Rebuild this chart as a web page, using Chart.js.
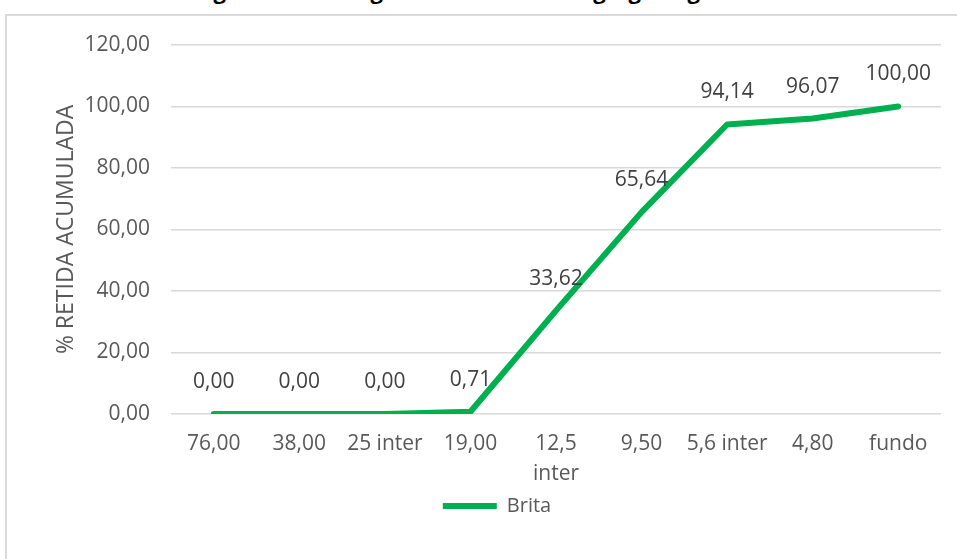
<!DOCTYPE html>
<html lang="pt">
<head>
<meta charset="UTF-8">
<title>Curva granulométrica</title>
<script src="https://cdn.jsdelivr.net/npm/chart.js"></script>
<style>
  html, body { margin: 0; padding: 0; background: #fff; overflow: hidden; }
  .grafico { position: relative; width: 957px; height: 559px; overflow: hidden; }
  .titulo {
    position: absolute; left: 0; top: -21px; width: 960px;
    text-align: center; font: bold 22px "Open Sans"; line-height: 22px; color: #000;
  }
  .moldura {
    position: absolute; left: 5px; top: 14px; width: 1000px; height: 600px;
    border-left: 2px solid #d9d9d9; border-top: 2px solid #d9d9d9;
  }
  canvas { position: absolute; left: 0; top: 0; }
</style>
</head>
<body>
<div class="grafico">
  <div class="titulo">Figura 1 - Curva granulométrica do agregado graúdo</div>
  <div class="moldura"></div>
  <canvas id="curva" width="957" height="559"></canvas>
</div>
<script>
  // peneiras (abertura em mm) e % retida acumulada da brita
  const peneiras = ['76,00', '38,00', '25 inter', '19,00', ['12,5', 'inter'], '9,50', '5,6 inter', '4,80', 'fundo'];
  const retidaAcumulada = [0.00, 0.00, 0.00, 0.71, 33.62, 65.64, 94.14, 96.07, 100.00];
  const eixoY = { min: 0, max: 120, passo: 20 };

  const verde = '#00B050';
  const cinzaTexto = '#595959';
  const fonte = '"Open Sans", sans-serif';

  const virgula = v => v.toFixed(2).replace('.', ',');

  // rótulos de valor acima de cada ponto
  const rotulos = {
    id: 'rotulos',
    afterDatasetsDraw(chart) {
      const ctx = chart.ctx;
      const meta = chart.getDatasetMeta(0);
      ctx.save();
      ctx.font = '21px ' + fonte;
      ctx.fillStyle = '#404040';
      ctx.textAlign = 'center';
      ctx.textBaseline = 'middle';
      meta.data.forEach((pt, i) => {
        ctx.fillText(virgula(retidaAcumulada[i]), pt.x, pt.y - 32);
      });
      ctx.restore();
    }
  };

  new Chart(document.getElementById('curva'), {
    type: 'line',
    data: {
      labels: peneiras,
      datasets: [{
        label: 'Brita',
        data: retidaAcumulada,
        borderColor: verde,
        backgroundColor: verde,
        borderWidth: 6,
        borderCapStyle: 'round',
        borderJoinStyle: 'round',
        pointRadius: 0,
        tension: 0,
        fill: false
      }]
    },
    plugins: [rotulos],
    options: {
      responsive: false,
      animation: false,
      layout: { padding: { left: 53, right: 16, top: 45, bottom: 33 } },
      plugins: {
        tooltip: { enabled: false },
        legend: {
          position: 'bottom',
          labels: {
            color: cinzaTexto,
            font: { family: fonte, size: 20 },
            boxWidth: 54,
            boxHeight: 6,
            padding: 2,
            generateLabels(chart) {
              return Chart.defaults.plugins.legend.labels.generateLabels(chart).map(l => {
                l.lineWidth = 0;
                l.fillStyle = verde;
                return l;
              });
            }
          }
        }
      },
      scales: {
        x: {
          offset: true,
          grid: { display: false, drawTicks: false },
          border: { display: false },
          afterFit(scale) { scale.height -= 10; },
          ticks: {
            color: cinzaTexto,
            font: { family: fonte, size: 21, lineHeight: 1.43 },
            padding: 15,
            maxRotation: 0,
            autoSkip: false
          }
        },
        y: {
          min: eixoY.min,
          max: eixoY.max,
          border: { display: false },
          grid: { color: '#d9d9d9', lineWidth: 1.5, drawTicks: false },
          afterFit(scale) { scale.width = 118; },
          ticks: {
            stepSize: eixoY.passo,
            color: cinzaTexto,
            font: { family: fonte, size: 21 },
            padding: 21,
            callback: v => virgula(v)
          },
          title: {
            display: true,
            text: '% RETIDA ACUMULADA',
            color: cinzaTexto,
            font: { family: fonte, size: 23 },
            padding: { top: 0, bottom: 8 }
          }
        }
      }
    }
  });
</script>
</body>
</html>
